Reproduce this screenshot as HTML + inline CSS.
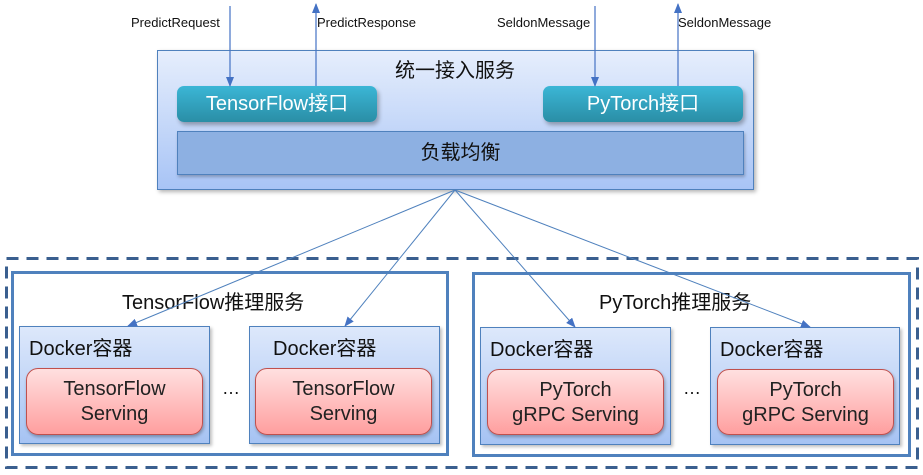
<!DOCTYPE html>
<html><head><meta charset="utf-8"><style>
body{margin:0;width:923px;height:475px;background:#fff;position:relative;overflow:hidden;font-family:"Liberation Sans","Noto Sans CJK SC",sans-serif;}
div{position:absolute;box-sizing:border-box;}
.t{color:#111;white-space:nowrap;}
.svc{border:3px solid #4f81bd;background:#fff;}
.dock{border:1px solid #4f81bd;background:linear-gradient(#dde8fb,#a6c3f3);box-shadow:2px 2px 3px rgba(0,0,0,.25);}
.red{border:1px solid #c0504d;border-radius:12px;background:linear-gradient(#ffe0e0,#ff9f9f);box-shadow:1px 2px 3px rgba(0,0,0,.3);text-align:center;font-size:20px;line-height:25px;color:#222;padding-top:8px;}
.api{border-radius:7px;background:linear-gradient(#3bb6d6,#2a8ea6);color:#fff;font-size:20px;text-align:center;line-height:36px;box-shadow:2px 3px 4px rgba(0,0,0,.3);}
.lab{font-size:13px;color:#111;}
</style></head><body>
<div style="left:157px;top:50px;width:597px;height:140px;border:1px solid #4f81bd;background:linear-gradient(#e6eefc,#a8c4f6);box-shadow:2px 2px 4px rgba(0,0,0,.3);"></div>
<div class="t" style="left:395px;top:54px;font-size:20px;">统一接入服务</div>
<div class="api" style="left:177px;top:86px;width:200px;height:36px;">TensorFlow接口</div>
<div class="api" style="left:543px;top:86px;width:200px;height:36px;">PyTorch接口</div>
<div style="left:177px;top:131px;width:567px;height:44px;background:#8db0e2;border:1px solid #4f81bd;box-shadow:1px 2px 3px rgba(0,0,0,.25);font-size:20px;text-align:center;line-height:42px;color:#111;">负载均衡</div>

<div class="svc" style="left:11px;top:271px;width:438px;height:185px;"></div>
<div class="svc" style="left:472px;top:272px;width:439px;height:185px;"></div>
<div class="t" style="left:122px;top:286px;font-size:20px;">TensorFlow推理服务</div>
<div class="t" style="left:599px;top:286px;font-size:20px;">PyTorch推理服务</div>

<div class="dock" style="left:19px;top:326px;width:191px;height:118px;"></div>
<div class="dock" style="left:249px;top:326px;width:191px;height:118px;"></div>
<div class="dock" style="left:480px;top:327px;width:191px;height:118px;"></div>
<div class="dock" style="left:710px;top:327px;width:190px;height:118px;"></div>
<div class="t" style="left:29px;top:332px;font-size:20px;">Docker容器</div>
<div class="t" style="left:273px;top:332px;font-size:20px;">Docker容器</div>
<div class="t" style="left:490px;top:333px;font-size:20px;">Docker容器</div>
<div class="t" style="left:720px;top:333px;font-size:20px;">Docker容器</div>
<div class="red" style="left:26px;top:368px;width:177px;height:67px;">TensorFlow<br>Serving</div>
<div class="red" style="left:255px;top:368px;width:177px;height:67px;">TensorFlow<br>Serving</div>
<div class="red" style="left:487px;top:369px;width:177px;height:66px;">PyTorch<br>gRPC Serving</div>
<div class="red" style="left:717px;top:369px;width:177px;height:66px;">PyTorch<br>gRPC Serving</div>
<div class="t" style="left:222px;top:378px;font-size:18px;">…</div>
<div class="t" style="left:683px;top:378px;font-size:18px;">…</div>

<div class="lab" style="left:131px;top:15px;">PredictRequest</div>
<div class="lab" style="left:317px;top:15px;">PredictResponse</div>
<div class="lab" style="left:497px;top:15px;">SeldonMessage</div>
<div class="lab" style="left:678px;top:15px;">SeldonMessage</div>

<svg width="923" height="475" style="position:absolute;left:0;top:0;" >
<defs><marker id="a" markerWidth="10" markerHeight="8" refX="9" refY="4" orient="auto" markerUnits="userSpaceOnUse"><path d="M0,0 L10,4 L0,8 z" fill="#4472c4"/></marker></defs>
<rect x="6.5" y="258.5" width="911" height="209" fill="none" stroke="#3a5f8f" stroke-width="3" stroke-dasharray="12 8"/>
<g stroke="#4472c4" stroke-width="1.2" fill="none" marker-end="url(#a)">
<line x1="230" y1="6" x2="230" y2="86"/>
<line x1="316" y1="86" x2="316" y2="4"/>
<line x1="595" y1="6" x2="595" y2="86"/>
<line x1="678" y1="86" x2="678" y2="4"/>
</g>
<g stroke="#4f81bd" stroke-width="1" fill="none" marker-end="url(#a)">
<line x1="455" y1="190" x2="128" y2="326"/>
<line x1="455" y1="190" x2="345" y2="326"/>
<line x1="455" y1="190" x2="575" y2="327"/>
<line x1="455" y1="190" x2="810" y2="327"/>
</g>
</svg>
</body></html>
